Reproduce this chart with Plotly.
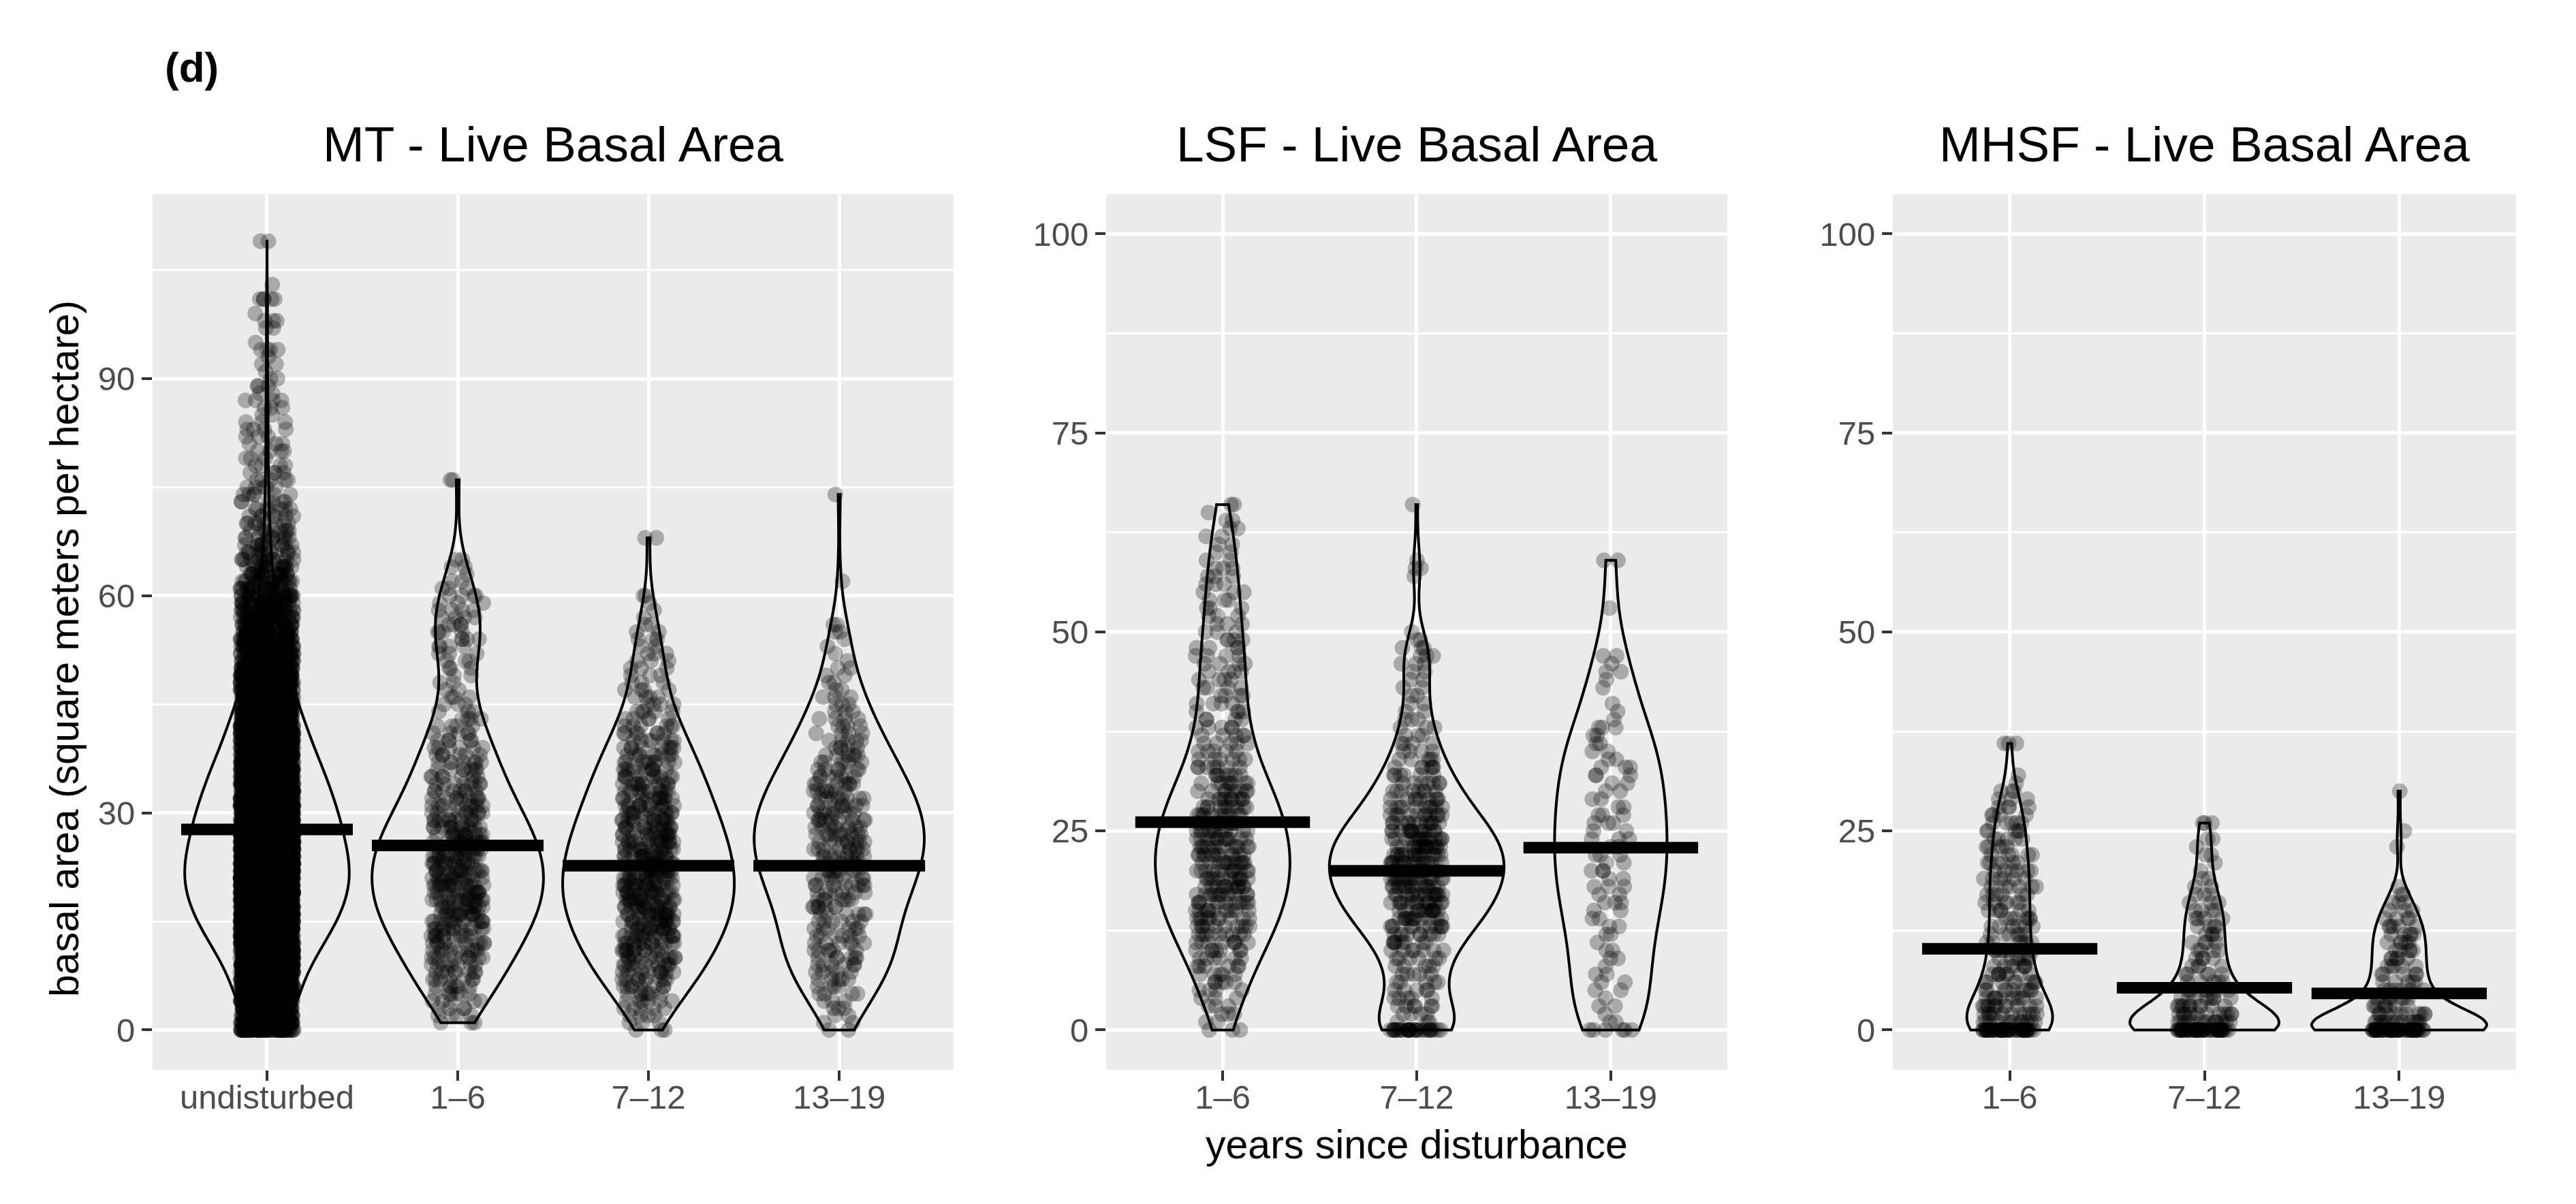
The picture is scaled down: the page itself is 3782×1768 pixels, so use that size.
import numpy as np
import plotly.graph_objects as go

# tick labels of the three panels
mt_labels = ["undisturbed", "1–6", "7–12", "13–19"]
lsf_labels = ["1–6", "7–12", "13–19"]
mhsf_labels = ["1–6", "7–12", "13–19"]

# number of plots at each basal area value (index = m2/ha, 0, 1, 2, ...)
mt_undisturbed_counts = [
    75, 70, 75, 82, 90, 98, 105, 112, 120, 132,
    145, 158, 170, 185, 198, 210, 220, 230, 238, 243,
    248, 250, 250, 248, 245, 240, 235, 230, 225, 220,
    215, 208, 200, 192, 185, 178, 168, 160, 150, 142,
    132, 125, 118, 110, 102, 95, 88, 80, 73, 68,
    62, 58, 53, 48, 43, 38, 35, 32, 30, 28,
    25, 22, 20, 18, 16, 14, 12, 11, 10, 9,
    8, 7, 7, 6, 6, 5, 5, 4, 4, 3,
    4, 3, 3, 4, 3, 2, 3, 4, 2, 3,
    2, 1, 2, 1, 4, 1, 0, 2, 3, 1,
    0, 5, 0, 1, 0, 0, 0, 0, 0, 2,
]
mt_1_6_counts = [
    0, 3, 4, 4, 5, 6, 6, 7, 8, 8,
    9, 10, 10, 11, 12, 12, 13, 13, 14, 14,
    14, 14, 14, 14, 14, 13, 13, 12, 12, 11,
    10, 10, 9, 8, 8, 7, 7, 7, 6, 6,
    5, 5, 4, 4, 3, 3, 3, 2, 2, 2,
    3, 3, 3, 4, 4, 4, 4, 4, 4, 3,
    4, 3, 2, 1, 2, 2, 0, 0, 0, 0,
    0, 0, 0, 0, 0, 0, 2,
]
mt_7_12_counts = [
    3, 3, 4, 5, 6, 7, 8, 9, 10, 11,
    12, 12, 13, 14, 14, 15, 15, 16, 16, 16,
    16, 16, 16, 16, 15, 15, 15, 14, 14, 13,
    13, 12, 12, 11, 11, 10, 10, 9, 9, 8,
    7, 7, 6, 5, 5, 4, 4, 4, 3, 3,
    3, 3, 3, 2, 3, 2, 2, 1, 1, 1,
    2, 0, 0, 0, 0, 0, 0, 0, 2,
]
mt_13_19_counts = [
    2, 2, 2, 3, 3, 4, 4, 5, 5, 6,
    6, 6, 6, 6, 6, 6, 6, 7, 7, 7,
    8, 8, 8, 9, 9, 9, 9, 9, 9, 9,
    9, 8, 8, 8, 7, 7, 6, 6, 6, 5,
    5, 4, 4, 4, 3, 3, 3, 2, 2, 2,
    2, 1, 1, 1, 1, 2, 2, 0, 0, 0,
    0, 0, 1, 0, 0, 0, 0, 0, 0, 0,
    0, 0, 0, 0, 1,
]
lsf_1_6_counts = [
    3, 2, 3, 3, 3, 4, 5, 5, 6, 6,
    7, 8, 9, 10, 10, 11, 11, 12, 12, 12,
    12, 12, 12, 12, 12, 12, 11, 11, 10, 10,
    9, 8, 7, 7, 6, 5, 5, 5, 5, 4,
    4, 4, 4, 4, 4, 4, 4, 4, 4, 4,
    3, 3, 3, 3, 3, 3, 3, 3, 3, 2,
    2, 2, 2, 2, 2, 1, 2,
]
lsf_7_12_counts = [
    30, 3, 4, 6, 5, 5, 5, 5, 5, 6,
    7, 8, 9, 11, 12, 13, 14, 15, 15, 16,
    16, 16, 16, 16, 15, 14, 12, 11, 10, 9,
    8, 7, 6, 6, 5, 4, 4, 3, 3, 3,
    2, 2, 2, 2, 2, 2, 3, 3, 3, 2,
    1, 0, 0, 0, 0, 0, 0, 1, 2, 1,
    0, 0, 0, 0, 0, 0, 1,
]
lsf_13_19_counts = [
    6, 2, 1, 2, 1, 2, 2, 2, 1, 2,
    2, 1, 2, 2, 2, 2, 3, 2, 3, 2,
    3, 2, 3, 2, 3, 2, 3, 3, 2, 2,
    2, 2, 3, 3, 2, 2, 2, 2, 3, 1,
    1, 1, 0, 1, 1, 2, 1, 2, 0, 0,
    0, 0, 0, 1, 0, 0, 0, 0, 0, 2,
]
mhsf_1_6_counts = [
    50, 12, 12, 11, 10, 9, 8, 8, 7, 7,
    6, 6, 6, 6, 6, 6, 6, 6, 6, 6,
    6, 6, 5, 5, 5, 5, 5, 4, 4, 3,
    3, 1, 1, 0, 0, 0, 3,
]
mhsf_7_12_counts = [
    50, 14, 12, 10, 8, 6, 5, 5, 4, 4,
    4, 4, 4, 4, 4, 4, 3, 3, 2, 2,
    1, 1, 2, 1, 2, 0, 3,
]
mhsf_13_19_counts = [
    55, 14, 10, 8, 6, 6, 5, 5, 5, 5,
    5, 5, 5, 5, 4, 3, 3, 2, 1, 0,
    0, 0, 0, 1, 0, 1, 0, 0, 0, 0,
    1,
]

# group means (thick bars)
mt_means = [27.7, 25.5, 22.7, 22.7]
lsf_means = [26.1, 20.0, 22.9]
mhsf_means = [10.2, 5.3, 4.6]

FONT = "Liberation Sans, Arial, sans-serif"
TICK_GREY = "#4D4D4D"


def expand(counts):
    return np.repeat(np.arange(len(counts)), counts).astype(float)


def bw_nrd0(vals):
    # same rule R's density() uses by default
    q1, q3 = np.percentile(vals, [25, 75])
    lo = min(np.std(vals, ddof=1), (q3 - q1) / 1.34)
    return 0.9 * lo * len(vals) ** (-0.2)


panels = [
    ("", "MT - Live Basal Area", mt_labels,
     [mt_undisturbed_counts, mt_1_6_counts, mt_7_12_counts, mt_13_19_counts],
     mt_means, [0.0571, 0.3681], [-5.5, 115.5], [0, 30, 60, 90], [15, 45, 75, 105]),
    ("2", "LSF - Live Basal Area", lsf_labels,
     [lsf_1_6_counts, lsf_7_12_counts, lsf_13_19_counts],
     lsf_means, [0.4273, 0.6684], [-5, 105], [0, 25, 50, 75, 100], [12.5, 37.5, 62.5, 87.5]),
    ("3", "MHSF - Live Basal Area", mhsf_labels,
     [mhsf_1_6_counts, mhsf_7_12_counts, mhsf_13_19_counts],
     mhsf_means, [0.7327, 0.9746], [-5, 105], [0, 25, 50, 75, 100], [12.5, 37.5, 62.5, 87.5]),
]

y_domain = [0.1160, 0.8433]

fig = go.Figure()
annotations = []

for suffix, title, labels, groups, means, xdom, yrange, yticks, yminor in panels:
    xref = "x" + suffix
    yref = "y" + suffix
    positions = list(range(1, len(labels) + 1))

    for pos, counts in zip(positions, groups):
        vals = expand(counts)
        fig.add_trace(go.Violin(
            x=[pos] * len(vals),
            y=vals,
            xaxis=xref,
            yaxis=yref,
            scalegroup="panel" + suffix,
            scalemode="width",
            spanmode="hard",
            bandwidth=bw_nrd0(vals),
            points="all",
            pointpos=0,
            jitter=0.31,
            marker=dict(color="black", opacity=0.28, size=23, line=dict(width=0)),
            line=dict(color="black", width=4),
            fillcolor="rgba(0,0,0,0)",
            box_visible=False,
            meanline_visible=False,
            showlegend=False,
            hoverinfo="skip",
        ))

    for pos, m in zip(positions, means):
        fig.add_trace(go.Scatter(
            x=[pos - 0.45, pos + 0.45],
            y=[m, m],
            xaxis=xref,
            yaxis=yref,
            mode="lines",
            line=dict(color="black", width=17),
            showlegend=False,
            hoverinfo="skip",
        ))

    axis_common = dict(
        showgrid=True, gridcolor="white", gridwidth=5,
        zeroline=False, showline=False,
        ticks="outside", ticklen=15, tickwidth=4, tickcolor="#333333",
        tickfont=dict(family=FONT, size=49, color=TICK_GREY),
    )
    fig.update_layout({
        "xaxis" + suffix: dict(
            domain=xdom, anchor=yref, range=[0.4, len(labels) + 0.6],
            tickmode="array", tickvals=positions, ticktext=labels,
            ticklabelstandoff=-18,
            **axis_common,
        ),
        "yaxis" + suffix: dict(
            domain=y_domain, anchor=xref, range=yrange,
            tickmode="array", tickvals=yticks,
            minor=dict(tickmode="array", tickvals=yminor, showgrid=True,
                       gridcolor="white", gridwidth=2.5, ticks=""),
            **axis_common,
        ),
    })

    annotations.append(dict(
        text=title, xref="paper", yref="paper",
        x=sum(xdom) / 2, y=1 - 203 / 1768, xanchor="center", yanchor="middle",
        showarrow=False, font=dict(family=FONT, size=73, color="black"),
    ))

annotations.append(dict(
    text="<b>(d)</b>", xref="paper", yref="paper",
    x=232 / 3782, y=1 - 90 / 1768, xanchor="left", yanchor="middle",
    showarrow=False, font=dict(family=FONT, size=62, color="black"),
))
annotations.append(dict(
    text="basal area (square meters per hectare)", xref="paper", yref="paper",
    x=87 / 3782, y=1 - 945 / 1768, xanchor="center", yanchor="middle",
    textangle=-90, showarrow=False, font=dict(family=FONT, size=59, color="black"),
))
annotations.append(dict(
    text="years since disturbance", xref="paper", yref="paper",
    x=2072 / 3782, y=1 - 1673 / 1768, xanchor="center", yanchor="middle",
    showarrow=False, font=dict(family=FONT, size=59, color="black"),
))

fig.update_layout(
    width=3782,
    height=1768,
    margin=dict(l=0, r=0, t=0, b=0),
    paper_bgcolor="white",
    plot_bgcolor="#EBEBEB",
    violinmode="overlay",
    violingap=0.1,
    violingroupgap=0,
    showlegend=False,
    font=dict(family=FONT, color=TICK_GREY),
    annotations=annotations,
)

fig.write_html("out.html")
